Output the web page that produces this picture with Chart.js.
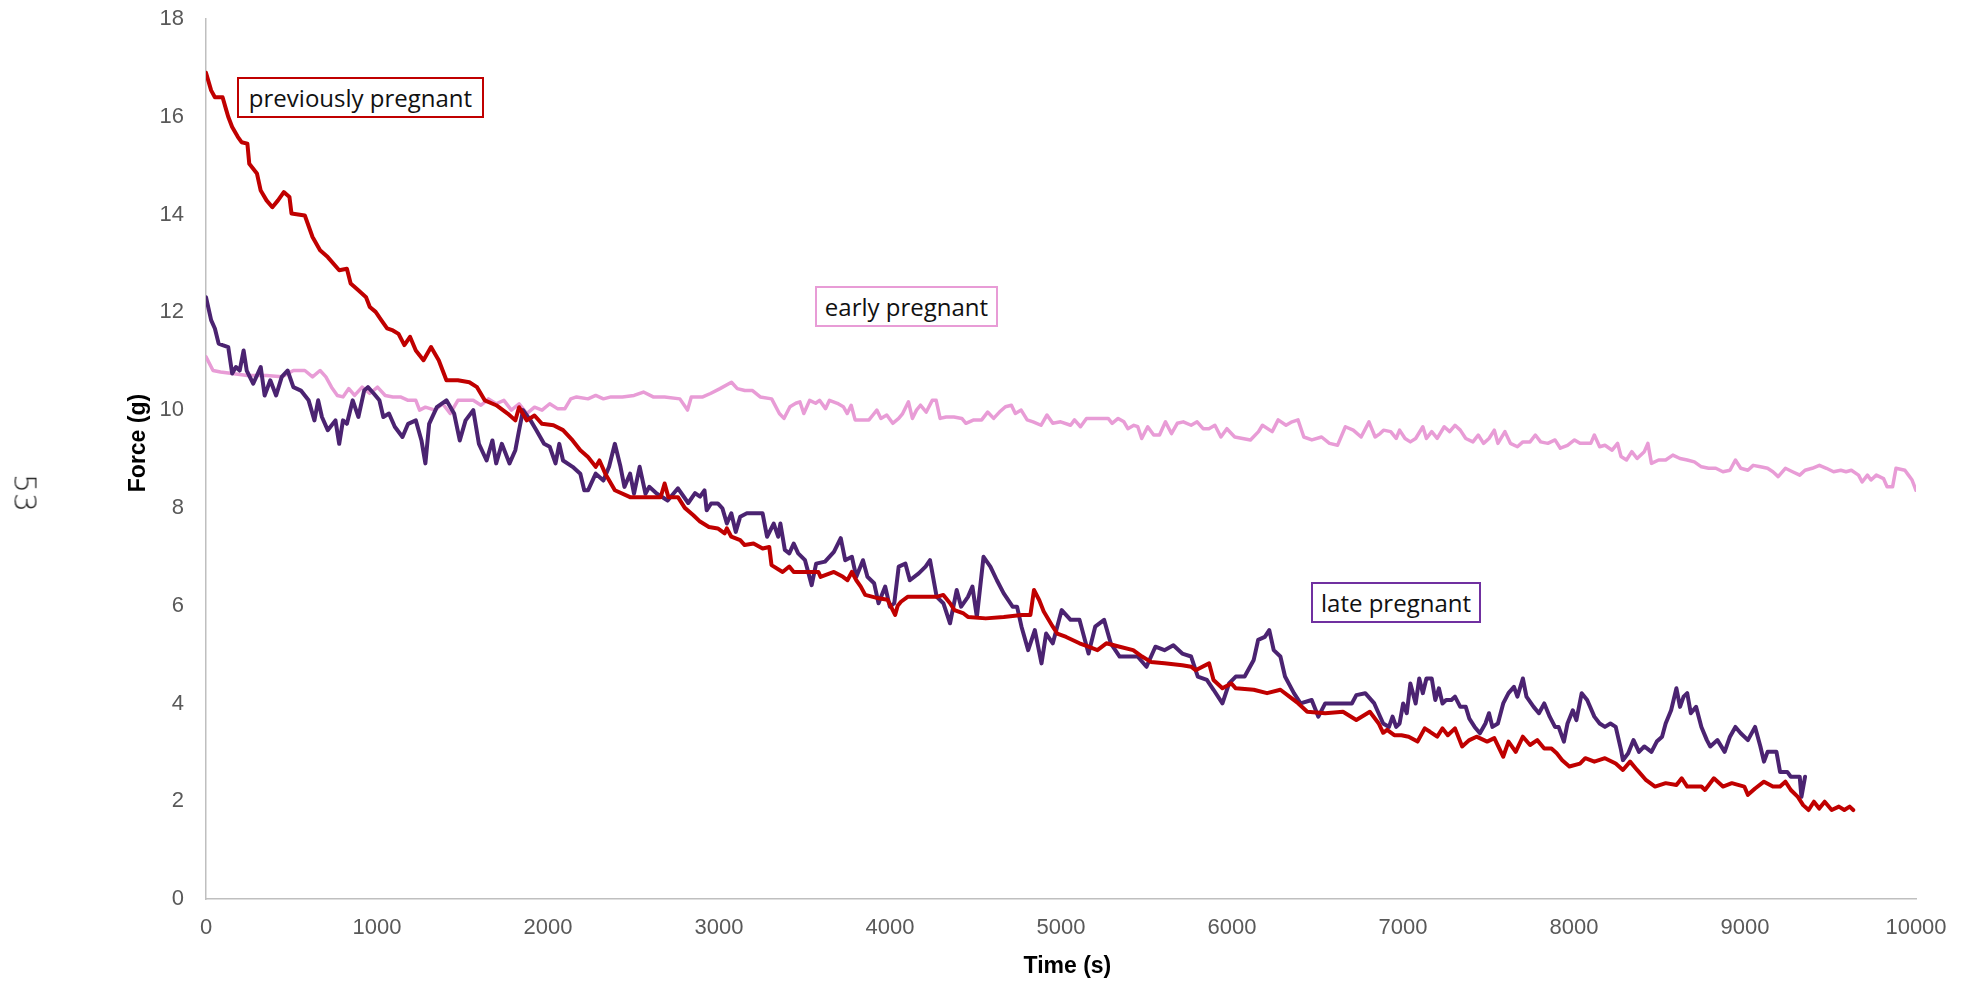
<!DOCTYPE html>
<html>
<head>
<meta charset="utf-8">
<script src="https://cdn.jsdelivr.net/npm/chart.js@4.4.1/dist/chart.umd.min.js"></script>
<style>
  html, body { margin: 0; padding: 0; background: #fff; }
  #wrap { position: relative; width: 1972px; height: 983px; overflow: hidden; }
  #chart { position: absolute; left: 0; top: 0; }
  .tag {
    position: absolute; box-sizing: border-box; background: #fff;
    border: 2px solid; display: flex; align-items: center; justify-content: center;
    font-family: "Open Sans", "Noto Sans", sans-serif; font-size: 24px; color: #111;
    white-space: nowrap;
  }
  #pagenum {
    position: absolute; left: 25px; top: 493px;
    transform: translate(-50%, -50%) rotate(90deg);
    font-family: "DejaVu Sans", sans-serif; font-weight: 200; font-size: 30px; color: #222;
  }
</style>
</head>
<body>
<div id="wrap">
  <canvas id="chart" width="1972" height="983"></canvas>
  <div id="pagenum">53</div>
  <div class="tag" style="left:237px;top:77px;width:247px;height:41px;border-color:#C00000;">previously pregnant</div>
  <div class="tag" style="left:815px;top:286px;width:183px;height:41px;border-color:#E89CD6;">early pregnant</div>
  <div class="tag" style="left:1311px;top:582px;width:170px;height:41px;border-color:#7030A0;">late pregnant</div>
</div>
<script>
"use strict";

// ---------------------------------------------------------------------------
// Data: time (s) and force (g) per group
// ---------------------------------------------------------------------------
const prevTime = [0, 30, 52, 97, 119, 130, 153, 186, 208, 242, 253, 298, 320, 354, 388, 421, 455, 488, 500, 578,
  623, 667, 712, 779, 824, 846, 891, 936, 958, 992, 1025, 1059, 1093, 1126, 1160, 1193, 1227, 1272, 1316, 1361,
  1406, 1473, 1540, 1585, 1630, 1697, 1764, 1809, 1831, 1876, 1921, 1965, 2032, 2088, 2144, 2189, 2234, 2279, 2301, 2335,
  2391, 2480, 2659, 2682, 2704, 2760, 2800, 2850, 2889, 2941, 2993, 3033, 3046, 3072, 3124, 3150, 3202, 3255, 3294, 3307,
  3372, 3411, 3437, 3516, 3581, 3594, 3672, 3725, 3751, 3777, 3803, 3829, 3855, 3933, 3986, 4030, 4045, 4064, 4103, 4195,
  4273, 4312, 4351, 4377, 4430, 4456, 4560, 4665, 4769, 4821, 4842, 4873, 4899, 4952, 4978, 5030, 5108, 5161, 5213, 5265,
  5343, 5422, 5474, 5526, 5605, 5709, 5761, 5787, 5866, 5892, 5944, 5996, 6022, 6127, 6205, 6283, 6336, 6388, 6440, 6545,
  6649, 6727, 6806, 6858, 6884, 6907, 6949, 6991, 7033, 7085, 7127, 7158, 7200, 7231, 7262, 7304, 7346, 7388, 7430, 7492,
  7534, 7586, 7617, 7659, 7701, 7743, 7785, 7826, 7868, 7899, 7931, 7973, 8035, 8066, 8119, 8181, 8244, 8286, 8328, 8369,
  8422, 8474, 8536, 8599, 8630, 8662, 8745, 8766, 8818, 8871, 8923, 8996, 9017, 9059, 9111, 9163, 9205, 9236, 9268, 9309,
  9340, 9372, 9403, 9434, 9466, 9507, 9549, 9581, 9612, 9633];
const prevForce = [16.9, 16.54, 16.4, 16.4, 16.13, 16.0, 15.79, 15.59, 15.48, 15.45, 15.04, 14.84, 14.49, 14.29, 14.15, 14.29, 14.46, 14.36, 14.02, 13.98,
  13.54, 13.27, 13.13, 12.86, 12.89, 12.59, 12.45, 12.31, 12.11, 12.01, 11.84, 11.67, 11.63, 11.56, 11.33, 11.5, 11.22, 11.02, 11.29, 11.02,
  10.61, 10.61, 10.57, 10.47, 10.2, 10.1, 9.93, 9.79, 10.06, 9.79, 9.89, 9.72, 9.69, 9.59, 9.38, 9.18, 9.04, 8.84, 8.97, 8.7,
  8.36, 8.22, 8.22, 8.5, 8.22, 8.22, 8.0, 7.85, 7.72, 7.61, 7.58, 7.48, 7.58, 7.41, 7.34, 7.24, 7.27, 7.17, 7.2, 6.83,
  6.69, 6.8, 6.69, 6.69, 6.69, 6.59, 6.69, 6.59, 6.52, 6.69, 6.52, 6.39, 6.22, 6.15, 6.12, 5.81, 6.0, 6.08, 6.18, 6.18,
  6.18, 6.22, 6.05, 5.91, 5.84, 5.77, 5.74, 5.77, 5.81, 5.81, 6.32, 6.11, 5.88, 5.57, 5.43, 5.36, 5.23, 5.16, 5.09, 5.23,
  5.16, 5.09, 4.96, 4.85, 4.82, 4.78, 4.75, 4.68, 4.82, 4.48, 4.31, 4.41, 4.31, 4.28, 4.21, 4.28, 4.14, 4.0, 3.83, 3.8,
  3.83, 3.66, 3.83, 3.59, 3.4, 3.46, 3.35, 3.35, 3.32, 3.22, 3.49, 3.42, 3.32, 3.49, 3.35, 3.49, 3.12, 3.25, 3.32, 3.22,
  3.29, 2.91, 3.22, 3.01, 3.32, 3.15, 3.25, 3.08, 3.08, 2.98, 2.84, 2.71, 2.77, 2.88, 2.81, 2.88, 2.77, 2.64, 2.81, 2.64,
  2.43, 2.3, 2.37, 2.33, 2.47, 2.3, 2.3, 2.23, 2.47, 2.3, 2.37, 2.3, 2.13, 2.26, 2.4, 2.3, 2.3, 2.4, 2.23, 2.09,
  1.92, 1.82, 1.99, 1.85, 1.99, 1.82, 1.89, 1.82, 1.89, 1.82];

const lateTime = [0, 30, 52, 74, 97, 130, 153, 175, 197, 220, 238, 276, 320, 343, 376, 410, 443, 477, 511, 555,
  600, 634, 656, 678, 712, 757, 779, 801, 824, 858, 891, 925, 947, 981, 1014, 1037, 1070, 1104, 1149, 1182,
  1227, 1260, 1283, 1305, 1350, 1406, 1451, 1484, 1518, 1563, 1596, 1641, 1675, 1697, 1730, 1775, 1809, 1831, 1854, 1898,
  1932, 1977, 2010, 2044, 2066, 2088, 2144, 2189, 2212, 2234, 2279, 2324, 2357, 2391, 2424, 2447, 2480, 2503, 2536, 2570,
  2592, 2637, 2700, 2760, 2820, 2860, 2889, 2915, 2928, 2954, 2993, 3020, 3046, 3072, 3098, 3124, 3163, 3215, 3255, 3281,
  3320, 3346, 3359, 3385, 3411, 3437, 3463, 3503, 3542, 3568, 3620, 3672, 3712, 3738, 3777, 3803, 3842, 3868, 3907, 3933,
  3972, 3999, 4025, 4051, 4090, 4116, 4168, 4208, 4234, 4273, 4312, 4351, 4390, 4416, 4456, 4482, 4508, 4547, 4587, 4625,
  4665, 4717, 4743, 4769, 4808, 4847, 4886, 4913, 4952, 5004, 5056, 5108, 5161, 5200, 5252, 5291, 5343, 5395, 5448, 5500,
  5552, 5605, 5657, 5709, 5761, 5800, 5853, 5892, 5944, 5983, 6022, 6074, 6127, 6153, 6192, 6218, 6244, 6283, 6310, 6362,
  6401, 6466, 6505, 6545, 6597, 6701, 6727, 6779, 6832, 6884, 6918, 6939, 6960, 6980, 7001, 7022, 7043, 7074, 7095, 7116,
  7137, 7168, 7189, 7210, 7231, 7252, 7283, 7304, 7335, 7367, 7388, 7419, 7450, 7482, 7503, 7523, 7555, 7586, 7617, 7649,
  7669, 7701, 7722, 7764, 7795, 7826, 7858, 7889, 7910, 7941, 7962, 7993, 8014, 8045, 8077, 8119, 8150, 8181, 8213, 8244,
  8275, 8286, 8317, 8348, 8380, 8411, 8453, 8484, 8515, 8536, 8568, 8599, 8620, 8641, 8662, 8683, 8714, 8745, 8777, 8797,
  8839, 8881, 8912, 8944, 8975, 9017, 9059, 9090, 9111, 9132, 9184, 9205, 9247, 9268, 9320, 9330, 9351];
const lateForce = [12.31, 11.84, 11.67, 11.36, 11.33, 11.29, 10.75, 10.88, 10.81, 11.22, 10.81, 10.54, 10.88, 10.3, 10.61, 10.3, 10.68, 10.81, 10.47, 10.4,
  10.2, 9.79, 10.2, 9.86, 9.59, 9.79, 9.31, 9.79, 9.72, 10.2, 9.86, 10.4, 10.47, 10.34, 10.2, 9.86, 9.93, 9.66, 9.45, 9.72,
  9.79, 9.38, 8.91, 9.72, 10.06, 10.2, 9.93, 9.38, 9.79, 10.0, 9.31, 8.97, 9.38, 8.91, 9.31, 8.91, 9.18, 9.59, 10.0, 9.79,
  9.59, 9.31, 9.25, 8.91, 9.31, 8.97, 8.84, 8.7, 8.36, 8.36, 8.7, 8.56, 8.84, 9.31, 8.84, 8.43, 8.7, 8.29, 8.84, 8.29,
  8.43, 8.29, 8.15, 8.4, 8.1, 8.3, 8.23, 8.36, 7.95, 8.09, 8.09, 7.99, 7.68, 7.89, 7.51, 7.82, 7.89, 7.89, 7.89, 7.41,
  7.68, 7.41, 7.68, 7.14, 7.07, 7.27, 7.07, 6.93, 6.42, 6.86, 6.9, 7.1, 7.38, 6.93, 7.0, 6.59, 6.93, 6.59, 6.46, 6.05,
  6.39, 5.98, 6.05, 6.8, 6.86, 6.52, 6.66, 6.8, 6.93, 6.18, 6.05, 5.64, 6.32, 5.98, 6.18, 6.39, 5.77, 7.0, 6.8, 6.52,
  6.25, 5.98, 5.98, 5.57, 5.09, 5.5, 4.82, 5.43, 5.23, 5.91, 5.71, 5.71, 5.02, 5.57, 5.71, 5.23, 4.96, 4.96, 4.96, 4.75,
  5.16, 5.09, 5.19, 5.02, 4.96, 4.55, 4.48, 4.28, 4.0, 4.41, 4.55, 4.55, 4.89, 5.3, 5.36, 5.5, 5.09, 4.96, 4.55, 4.21,
  4.0, 4.07, 3.73, 4.0, 4.0, 4.0, 4.17, 4.21, 4.0, 3.59, 3.52, 3.73, 3.52, 3.59, 4.0, 3.8, 4.41, 4.0, 4.51, 4.21,
  4.51, 4.51, 4.07, 4.31, 4.0, 4.07, 4.07, 4.14, 3.93, 3.93, 3.69, 3.52, 3.39, 3.59, 3.8, 3.52, 3.59, 4.0, 4.21, 4.34,
  4.14, 4.51, 4.14, 3.93, 3.8, 4.0, 3.73, 3.52, 3.52, 3.22, 3.59, 3.86, 3.66, 4.21, 4.07, 3.73, 3.59, 3.52, 3.59, 3.52,
  3.05, 2.84, 2.98, 3.25, 3.01, 3.12, 3.01, 3.22, 3.32, 3.59, 3.86, 4.31, 3.93, 4.14, 4.21, 3.8, 3.93, 3.52, 3.25, 3.12,
  3.25, 3.01, 3.32, 3.52, 3.39, 3.25, 3.52, 3.12, 2.81, 3.01, 3.01, 2.6, 2.6, 2.5, 2.5, 2.09, 2.5];

const earlyTime = [0, 41, 85, 153, 242, 354, 443, 511, 578, 623, 667, 701, 734, 768, 801, 835, 869, 913, 958, 1003,
  1048, 1093, 1137, 1182, 1227, 1249, 1283, 1339, 1384, 1428, 1473, 1518, 1563, 1608, 1652, 1697, 1742, 1786, 1831, 1876,
  1921, 1965, 2010, 2055, 2099, 2133, 2167, 2234, 2279, 2324, 2368, 2435, 2503, 2558, 2615, 2682, 2771, 2816, 2838, 2905,
  2950, 3006, 3073, 3107, 3151, 3196, 3241, 3308, 3353, 3380, 3415, 3449, 3473, 3496, 3530, 3565, 3588, 3623, 3646, 3692,
  3727, 3750, 3773, 3796, 3843, 3877, 3900, 3923, 3947, 3981, 4016, 4051, 4074, 4108, 4131, 4155, 4178, 4212, 4247, 4270,
  4293, 4328, 4374, 4420, 4444, 4490, 4536, 4571, 4606, 4640, 4675, 4710, 4733, 4767, 4802, 4837, 4883, 4918, 4952, 4998,
  5056, 5079, 5114, 5149, 5207, 5276, 5299, 5334, 5368, 5391, 5426, 5449, 5472, 5507, 5542, 5576, 5611, 5646, 5680, 5715,
  5761, 5796, 5831, 5865, 5900, 5935, 5970, 6016, 6062, 6108, 6155, 6178, 6235, 6270, 6316, 6351, 6386, 6420, 6467, 6524,
  6570, 6617, 6663, 6709, 6755, 6801, 6837, 6866, 6886, 6928, 6960, 6980, 7012, 7043, 7074, 7116, 7137, 7168, 7200, 7241,
  7273, 7304, 7335, 7367, 7409, 7440, 7471, 7503, 7534, 7555, 7596, 7628, 7669, 7701, 7743, 7774, 7805, 7847, 7889, 7920,
  7962, 8003, 8035, 8098, 8119, 8150, 8181, 8223, 8255, 8275, 8307, 8338, 8369, 8411, 8432, 8453, 8495, 8536, 8578, 8620,
  8662, 8704, 8745, 8787, 8829, 8871, 8912, 8944, 8975, 9017, 9048, 9090, 9132, 9163, 9194, 9236, 9278, 9320, 9351, 9393,
  9435, 9476, 9518, 9560, 9591, 9622, 9664, 9685, 9716, 9737, 9768, 9810, 9831, 9863, 9883, 9935, 9956, 9977, 10000];
const earlyForce = [11.09, 10.81, 10.78, 10.75, 10.71, 10.71, 10.68, 10.81, 10.81, 10.68, 10.81, 10.68, 10.47, 10.3, 10.27, 10.44, 10.3, 10.47, 10.34, 10.47,
  10.3, 10.27, 10.27, 10.2, 10.2, 10.0, 10.06, 10.0, 10.13, 9.93, 10.2, 10.2, 10.2, 10.1, 10.23, 10.13, 10.2, 10.0, 10.13, 9.93,
  10.06, 10.0, 10.13, 10.03, 10.03, 10.23, 10.27, 10.23, 10.3, 10.23, 10.27, 10.27, 10.3, 10.37, 10.27, 10.27, 10.23, 10.0, 10.27, 10.27,
  10.34, 10.44, 10.57, 10.44, 10.4, 10.4, 10.27, 10.23, 9.93, 9.83, 10.07, 10.14, 10.17, 9.93, 10.2, 10.14, 10.2, 10.03, 10.2, 10.14,
  10.07, 9.93, 10.1, 9.8, 9.8, 9.8, 9.9, 10.0, 9.83, 9.9, 9.73, 9.83, 9.93, 10.17, 9.83, 10.0, 10.1, 9.96, 10.2, 10.2,
  9.83, 9.86, 9.86, 9.83, 9.73, 9.8, 9.8, 9.96, 9.83, 9.96, 10.07, 10.1, 9.93, 10.0, 9.8, 9.76, 9.69, 9.9, 9.73, 9.76,
  9.69, 9.8, 9.66, 9.83, 9.83, 9.83, 9.73, 9.83, 9.76, 9.62, 9.69, 9.66, 9.42, 9.66, 9.49, 9.49, 9.76, 9.52, 9.73, 9.76,
  9.69, 9.76, 9.62, 9.62, 9.69, 9.45, 9.62, 9.45, 9.42, 9.39, 9.56, 9.69, 9.56, 9.8, 9.69, 9.76, 9.8, 9.45, 9.39, 9.45,
  9.32, 9.28, 9.66, 9.59, 9.45, 9.76, 9.45, 9.52, 9.59, 9.56, 9.42, 9.59, 9.42, 9.35, 9.42, 9.66, 9.42, 9.56, 9.42, 9.66,
  9.56, 9.69, 9.59, 9.42, 9.35, 9.49, 9.32, 9.42, 9.59, 9.32, 9.56, 9.32, 9.25, 9.35, 9.35, 9.49, 9.35, 9.32, 9.39, 9.22,
  9.28, 9.39, 9.32, 9.32, 9.49, 9.25, 9.28, 9.18, 9.32, 9.05, 8.98, 9.15, 9.01, 9.15, 9.32, 8.91, 8.98, 8.98, 9.08, 9.01,
  8.98, 8.94, 8.84, 8.81, 8.81, 8.74, 8.77, 8.98, 8.81, 8.77, 8.87, 8.84, 8.81, 8.74, 8.64, 8.81, 8.74, 8.67, 8.77, 8.81,
  8.87, 8.81, 8.74, 8.77, 8.74, 8.77, 8.67, 8.53, 8.67, 8.57, 8.67, 8.6, 8.43, 8.43, 8.81, 8.77, 8.67, 8.57, 8.36];

const xTicks = { min: 0, max: 10000, step: 1000 };
const yTicks = { min: 0, max: 18, step: 2 };

// ---------------------------------------------------------------------------
// Chart
// ---------------------------------------------------------------------------
const TICK_FONT = { family: '"Liberation Sans", Arial, sans-serif', size: 22 };
const TITLE_FONT = { family: '"Liberation Sans", Arial, sans-serif', size: 23, weight: "bold" };

function pts(xs, ys) {
  return xs.map((x, i) => ({ x, y: ys[i] }));
}

function series(data, color, width) {
  return {
    data, borderColor: color, backgroundColor: color, borderWidth: width,
    pointRadius: 0, tension: 0, borderJoinStyle: "round", borderCapStyle: "round", fill: false,
  };
}

new Chart(document.getElementById("chart"), {
  type: "line",
  data: {
    datasets: [
      // first dataset is drawn on top
      series(pts(prevTime, prevForce), "#C00000", 4),
      series(pts(lateTime, lateForce), "#4B2371", 4),
      series(pts(earlyTime, earlyForce), "#E89CD6", 3.5),
    ],
  },
  options: {
    responsive: false,
    animation: false,
    layout: { padding: { left: 0, right: 56, top: 19, bottom: 0 } },
    plugins: { legend: { display: false }, tooltip: { enabled: false } },
    scales: {
      x: {
        type: "linear", min: xTicks.min, max: xTicks.max,
        ticks: { stepSize: xTicks.step, color: "#595959", font: TICK_FONT, padding: 16, maxRotation: 0,
          callback: (v) => String(v) },
        grid: { display: false, drawTicks: false },
        border: { display: true, color: "#BFBFBF", width: 1.5 },
        // leading spaces nudge the centred title a little right, as in the original
        title: { display: true, text: "  Time (s)", color: "#000", font: TITLE_FONT, padding: { top: 0, bottom: 3 } },
        afterFit: (s) => { s.height = 84; },
      },
      y: {
        type: "linear", min: yTicks.min, max: yTicks.max,
        ticks: { stepSize: yTicks.step, color: "#595959", font: TICK_FONT, padding: 22 },
        grid: { display: false, drawTicks: false },
        border: { display: true, color: "#BFBFBF", width: 1.5 },
        // leading spaces lift the rotated title a bit above the plot centre
        title: { display: true, text: "     Force (g)", color: "#000", font: TITLE_FONT, padding: { top: 125, bottom: 0 } },
        afterFit: (s) => { s.width = 206; s.paddingTop = 0; s.paddingBottom = 0; },
      },
    },
  },
});
</script>
</body>
</html>
